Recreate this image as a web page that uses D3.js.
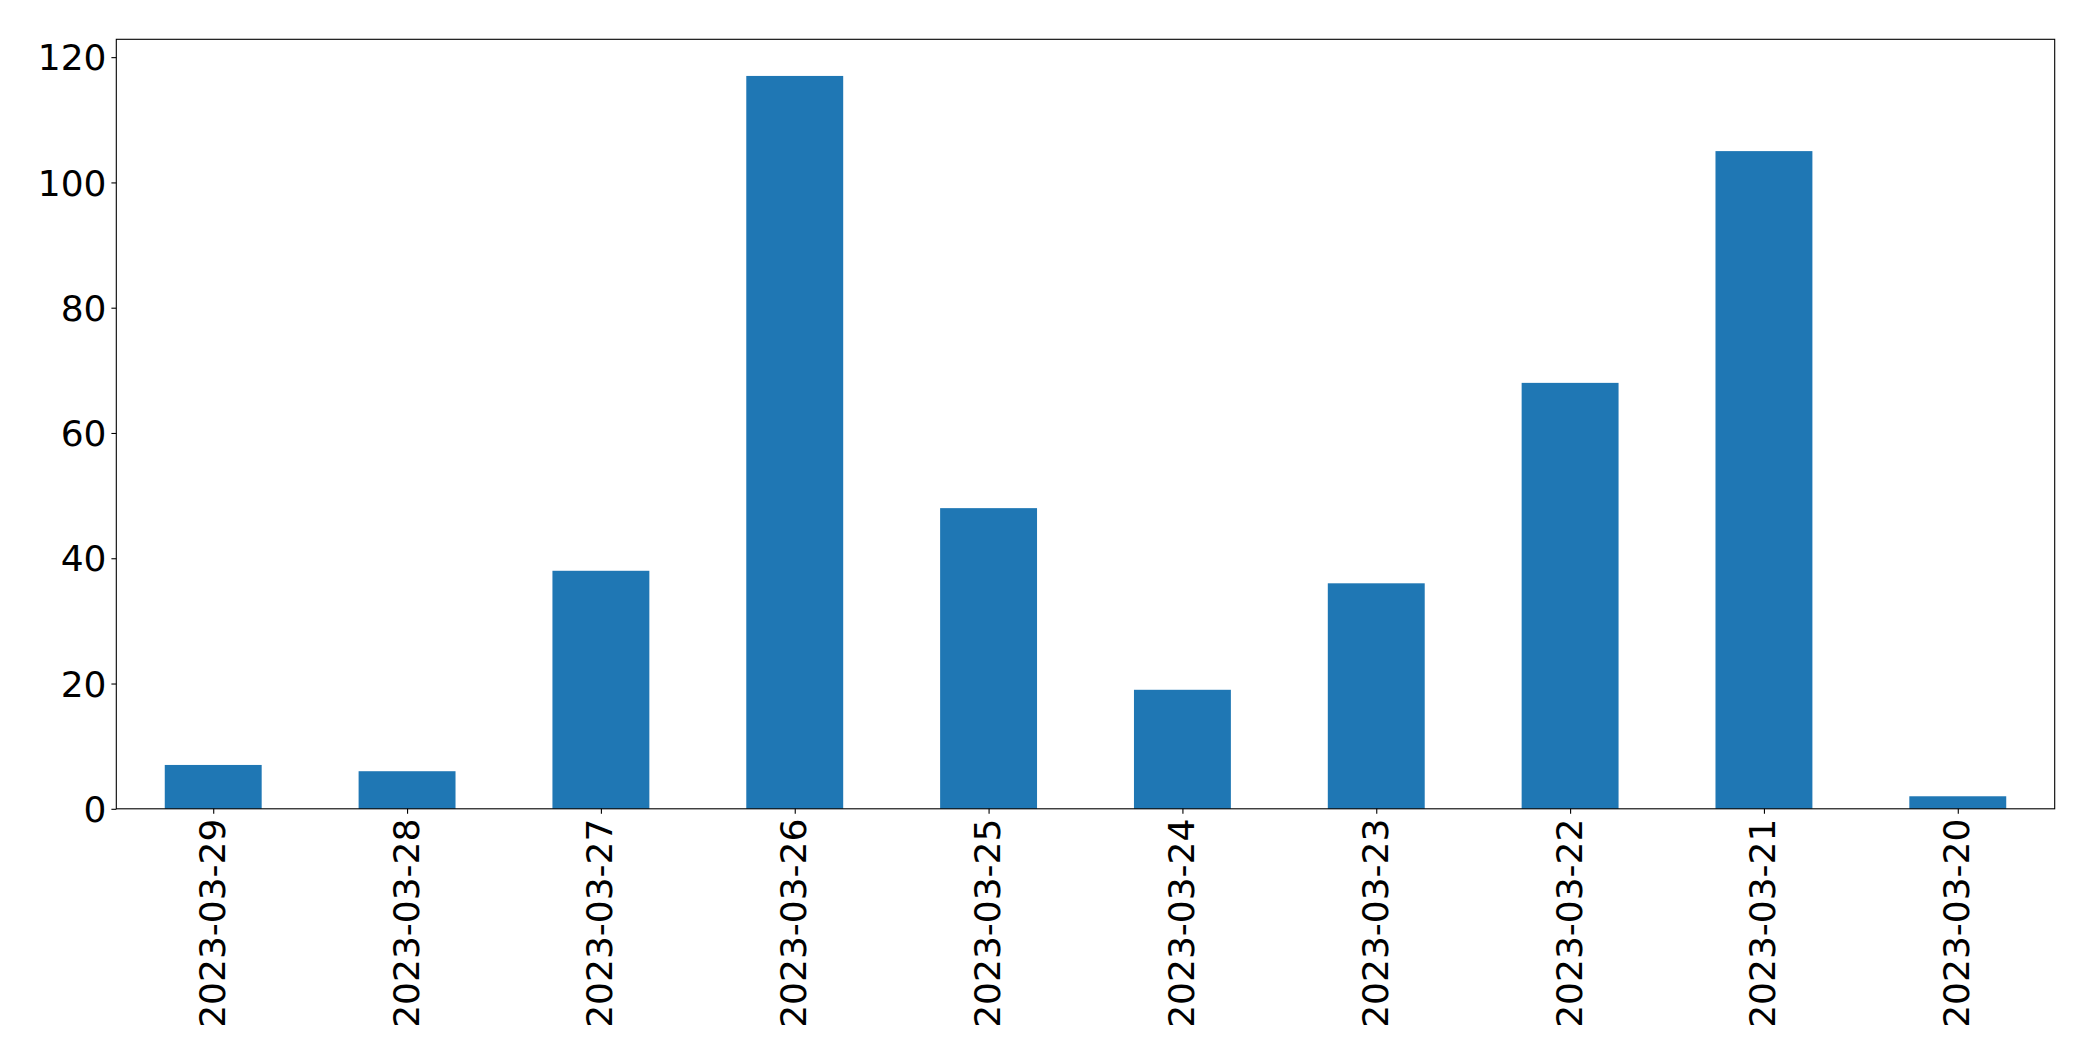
<!DOCTYPE html>
<html>
<head>
<meta charset="utf-8">
<script src="https://cdn.jsdelivr.net/npm/d3@7"></script>
<style>
html, body { margin: 0; padding: 0; background: #fff; }
svg { display: block; }
text { font-family: "DejaVu Sans", sans-serif; fill: #000; }
</style>
</head>
<body>
<svg id="chart" width="2093" height="1061"></svg>
<script>
const categories = ["2023-03-29","2023-03-28","2023-03-27","2023-03-26","2023-03-25","2023-03-24","2023-03-23","2023-03-22","2023-03-21","2023-03-20"];
const values = [7, 6, 38, 117, 48, 19, 36, 68, 105, 2];
const yTicks = [0, 20, 40, 60, 80, 100, 120];

const W = 2093, H = 1061;
const margin = { left: 116.3, right: W - 2054.7, top: 39.3, bottom: H - 808.8 };
const iw = W - margin.left - margin.right;
const ih = H - margin.top - margin.bottom;

const svg = d3.select("#chart");
const g = svg.append("g").attr("transform", `translate(${margin.left},${margin.top})`);

// matplotlib-like: xlim [-0.5, n-0.5], bar width 0.5
const x = d3.scaleLinear().domain([-0.5, categories.length - 0.5]).range([0, iw]);
const ymax = d3.max(values) * 1.05;
const y = d3.scaleLinear().domain([0, ymax]).range([ih, 0]);

g.selectAll("rect.bar")
  .data(values)
  .join("rect")
  .attr("class", "bar")
  .attr("x", (d, i) => x(i - 0.25))
  .attr("width", (d, i) => x(i + 0.25) - x(i - 0.25))
  .attr("y", d => y(d))
  .attr("height", d => y(0) - y(d))
  .attr("fill", "#1f77b4");

// Y axis
const yAxis = d3.axisLeft(y).tickValues(yTicks).tickSize(4.9).tickPadding(4.9).tickFormat(d3.format("d"));
const ya = g.append("g").call(yAxis);
ya.select(".domain").remove();
ya.selectAll("line").attr("stroke", "#000").attr("stroke-width", 1.1);
ya.selectAll("text").attr("font-size", 36).attr("font-family", "DejaVu Sans").attr("dy", "0.35em");

// X axis
const xAxis = d3.axisBottom(x).tickValues(d3.range(categories.length)).tickSize(4.9).tickPadding(0).tickFormat(i => categories[i]);
const xa = g.append("g").attr("transform", `translate(0,${ih})`).call(xAxis);
xa.select(".domain").remove();
xa.selectAll("line").attr("stroke", "#000").attr("stroke-width", 1.1);
xa.selectAll("text")
  .attr("font-size", 36)
  .attr("font-family", "DejaVu Sans")
  .attr("text-anchor", "end")
  .attr("dominant-baseline", "central")
  .attr("dy", null)
  .attr("y", null)
  .attr("transform", "translate(-1.5,9.8) rotate(-90)");

// frame
g.append("rect")
  .attr("x", 0).attr("y", 0).attr("width", iw).attr("height", ih)
  .attr("fill", "none").attr("stroke", "#000").attr("stroke-width", 1.1);
</script>
</body>
</html>
